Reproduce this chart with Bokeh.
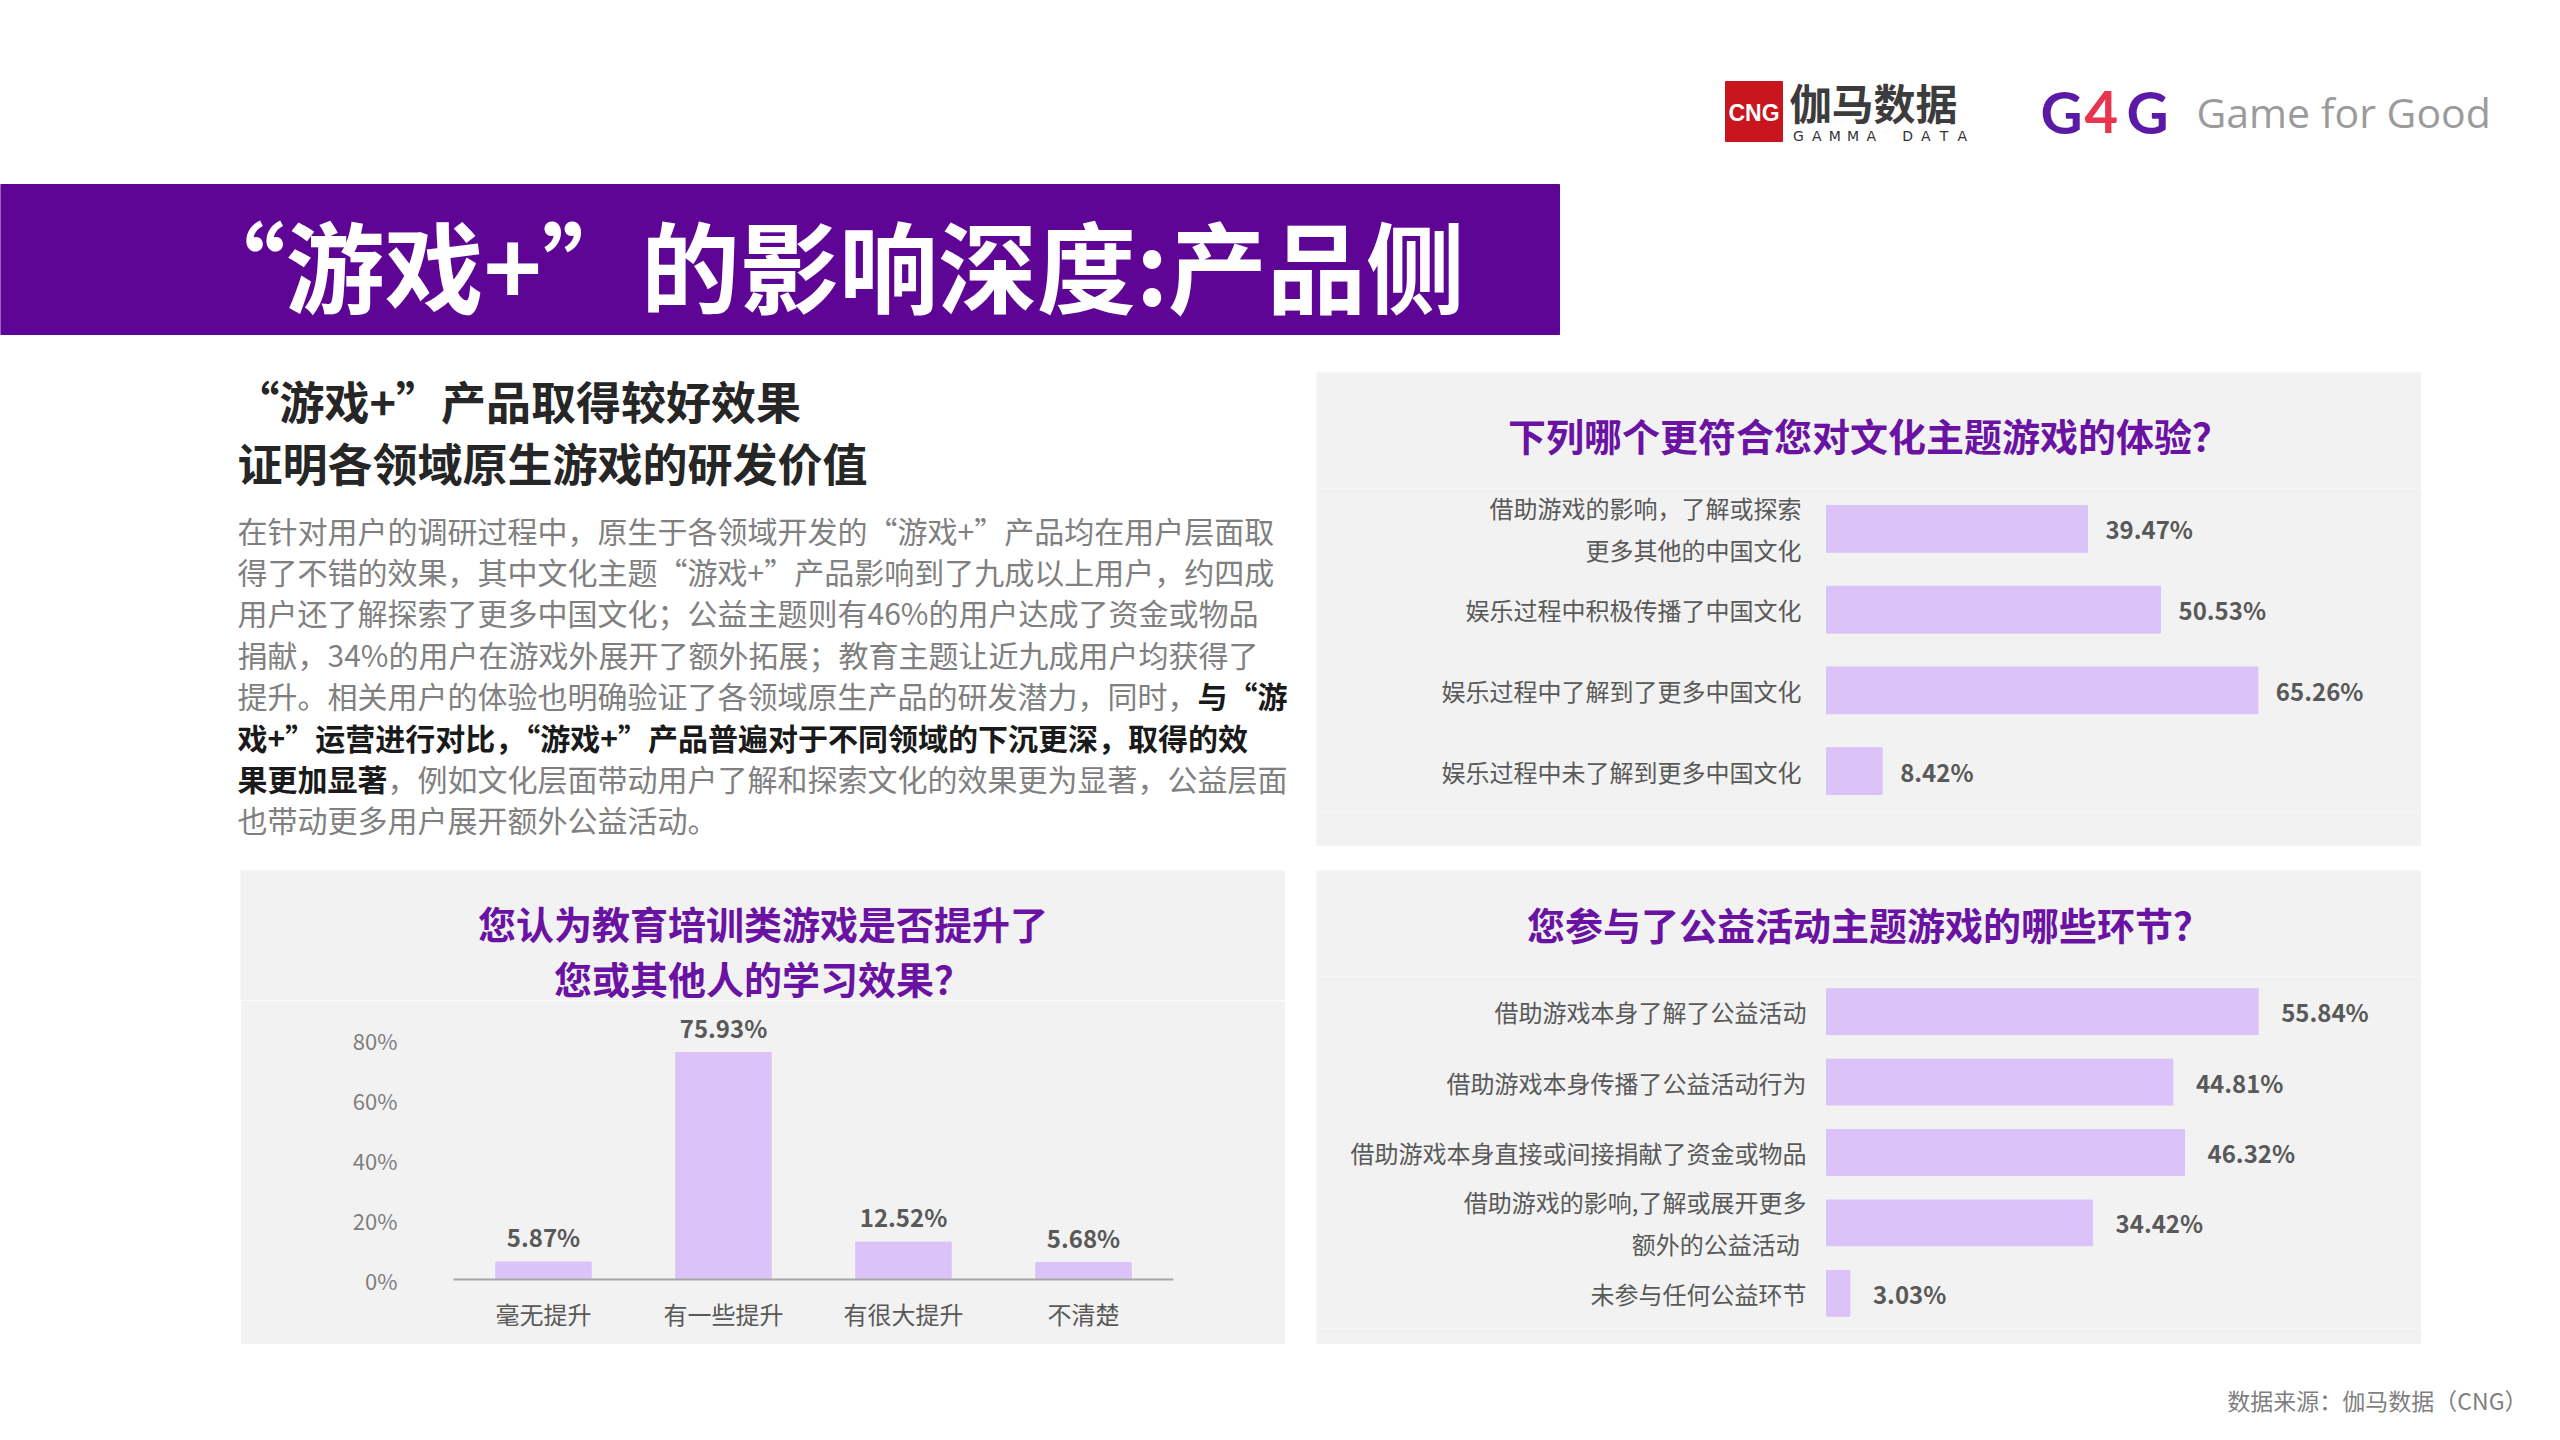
from bokeh.plotting import figure
from bokeh.layouts import column, row
from bokeh.models import (Spacer, Range1d, FactorRange, ColumnDataSource, FixedTicker,
                          PrintfTickFormatter, Label, LabelSet)
from bokeh.core.properties import value
from bokeh.embed import file_html
from bokeh.resources import INLINE

# ---------------- data ----------------
page_title = "“游戏+”的影响深度:产品侧"
heading_lines = ["“游戏+”产品取得较好效果", "证明各领域原生游戏的研发价值"]
body_lines = [
    [("在针对用户的调研过程中，原生于各领域开发的“游戏+”产品均在用户层面取", False)],
    [("得了不错的效果，其中文化主题“游戏+”产品影响到了九成以上用户，约四成", False)],
    [("用户还了解探索了更多中国文化；公益主题则有46%的用户达成了资金或物品", False)],
    [("捐献，34%的用户在游戏外展开了额外拓展；教育主题让近九成用户均获得了", False)],
    [("提升。相关用户的体验也明确验证了各领域原生产品的研发潜力，同时，", False), ("与“游", True)],
    [("戏+”运营进行对比，“游戏+”产品普遍对于不同领域的下沉更深，取得的效", True)],
    [("果更加显著", True), ("，例如文化层面带动用户了解和探索文化的效果更为显著，公益层面", False)],
    [("也带动更多用户展开额外公益活动。", False)],
]
source_note = "数据来源：伽马数据（CNG）"

culture_title = "下列哪个更符合您对文化主题游戏的体验？"
culture_cats = ["借助游戏的影响，了解或探索\n更多其他的中国文化", "娱乐过程中积极传播了中国文化",
                "娱乐过程中了解到了更多中国文化", "娱乐过程中未了解到更多中国文化"]
culture_vals = [39.47, 50.53, 65.26, 8.42]

edu_title_lines = ["您认为教育培训类游戏是否提升了", "您或其他人的学习效果？"]
edu_cats = ["毫无提升", "有一些提升", "有很大提升", "不清楚"]
edu_vals = [5.87, 75.93, 12.52, 5.68]
edu_ticks = [0, 20, 40, 60, 80]

charity_title = "您参与了公益活动主题游戏的哪些环节？"
charity_cats = ["借助游戏本身了解了公益活动", "借助游戏本身传播了公益活动行为",
                "借助游戏本身直接或间接捐献了资金或物品", "借助游戏的影响,了解或展开更多\n额外的公益活动",
                "未参与任何公益环节"]
charity_vals = [55.84, 44.81, 46.32, 34.42, 3.03]

# ---------------- style ----------------
FONT = "Noto Sans CJK SC"
BG = "#f2f2f2"
BAR = "#dbc2f8"
PURPLE = "#6a12a2"
BANNER = "#5e0596"
LABEL = "#595959"
BODY = "#808080"
DARK = "#262626"


def canvas(w, h, x0, x1, y_top, y_bottom, bg="white"):
    # page-like coordinates: y grows downwards, stored as negative numbers
    p = figure(width=w, height=h, x_range=Range1d(x0, x1), y_range=Range1d(-y_bottom, -y_top),
               x_axis_location=None, y_axis_location=None, output_backend="svg",
               toolbar_location=None, min_border=0)
    p.outline_line_color = None
    p.grid.visible = False
    p.background_fill_color = bg
    p.border_fill_color = bg
    return p


def put(p, x, y, s, size, color, bold=False, align="left", font=FONT):
    p.add_layout(Label(x=x, y=-y, text=s, text_font=font, text_font_size=size,
                       text_font_style="bold" if bold else "normal", text_color=color,
                       text_align=align, text_baseline="middle"))


def right_justify(s):
    # right-align the lines of a multi-line label with ideographic spaces
    lines = s.split("\n")
    if len(lines) == 1:
        return s
    em = lambda t: sum(0.5 if ord(c) < 128 else 1.0 for c in t)
    n = max(em(l) for l in lines)
    return "\n".join("\u3000" * int(n - em(l)) + l for l in lines)


# ---------------- header ----------------
hdr = canvas(2560, 372, 0, 2560, 0, 372)
hdr.quad(left=[0], right=[1559], top=[-184], bottom=[-334], color=BANNER)
put(hdr, 186, 262, page_title, "99px", "white", bold=True)
hdr.quad(left=[1725], right=[1782], top=[-81], bottom=[-141], color="#c9151e")
put(hdr, 1753.5, 112, "CNG", "23px", "white", bold=True, align="center", font="Liberation Sans")
put(hdr, 1789, 101, "伽马数据", "42px", "#3c3c3c", bold=True)
for i, ch in enumerate("GAMMA DATA"):
    if ch != " ":
        put(hdr, 1798 + 18.2 * i, 135, ch, "14px", "#333333", align="center", font="DejaVu Sans")
put(hdr, 2040, 111, "G", "58px", "#5b1aa6", bold=True, font="Lato")
put(hdr, 2084, 111, "4", "58px", "#e8344e", bold=True, font="Lato")
put(hdr, 2126, 111, "G", "58px", "#5b1aa6", bold=True, font="Lato")
put(hdr, 2196, 111, "Game for Good", "41px", "#9b9b9b", font="Open Sans")

# ---------------- left text block ----------------
txt = canvas(1316, 498, 0, 1316, 372, 870)
put(txt, 234, 400, heading_lines[0], "45px", DARK, bold=True)
put(txt, 237, 462, heading_lines[1], "45px", DARK, bold=True)
BODY_FS = 30
for i, segs in enumerate(body_lines):
    x = 237
    y = 529 + 41.4 * i
    for s, bold in segs:
        put(txt, x, y, s, f"{BODY_FS}px", "#1a1a1a" if bold else BODY, bold=bold)
        x += len(s) * BODY_FS


# ---------------- title strips / fillers ----------------
def title_strip(w, h, lines, ys):
    p = canvas(w, h, 0, w, 0, h, bg=BG)
    for s, y in zip(lines, ys):
        put(p, w / 2, y, s, "38px", PURPLE, bold=True, align="center")
    return p


def filler(w, h):
    return canvas(w, h, 0, w, 0, h, bg=BG)


# ---------------- horizontal bar charts (frame = whole figure) ----------------
def hbar_chart(cats, vals, w, h, px_per_pct, bar_left_px, bar_h, lab_gap, val_gap):
    src = ColumnDataSource(dict(cat=cats, val=vals, name=[right_justify(c) for c in cats],
                                lbl=[f"{v:.2f}%" for v in vals]))
    p = figure(width=w, height=h, y_range=FactorRange(factors=cats[::-1]),
               x_range=Range1d(-bar_left_px / px_per_pct, (w - bar_left_px) / px_per_pct),
               x_axis_location=None, y_axis_location=None, output_backend="svg",
               toolbar_location=None, min_border=0)
    p.outline_line_color = None
    p.grid.visible = False
    p.background_fill_color = BG
    p.border_fill_color = BG
    p.hbar(y="cat", left=0, right="val", height=bar_h, color=BAR, source=src)
    p.add_layout(LabelSet(x=0, y="cat", text="name", x_offset=-lab_gap, source=src,
                          text_align="right", text_baseline="middle", text_font=value(FONT),
                          text_font_size="24px", text_color=LABEL))
    p.add_layout(LabelSet(x="val", y="cat", text="lbl", x_offset=val_gap, source=src,
                          text_baseline="middle", text_font=value(FONT), text_font_size="24px",
                          text_font_style="bold", text_color=LABEL))
    return p


tr_title = title_strip(1105, 116, [culture_title], [62])
tr_chart = hbar_chart(culture_cats, culture_vals, 1105, 323, 6.61, 510, 0.58, 25, 18)
tr_fill = filler(1105, 35)

br_title = title_strip(1105, 106, [charity_title], [53])
br_chart = hbar_chart(charity_cats, charity_vals, 1105, 352, 7.73, 510, 0.65, 20, 23)
br_fill = filler(1105, 16)


# ---------------- vertical bar chart ----------------
def style_axis(ax, standoff, size, color):
    ax.axis_line_color = None
    ax.major_tick_line_color = None
    ax.minor_tick_line_color = None
    ax.major_tick_out = 0
    ax.major_tick_in = 0
    ax.major_label_standoff = standoff
    ax.major_label_text_font = FONT
    ax.major_label_text_font_size = size
    ax.major_label_text_color = color


bl_title = title_strip(1045, 130, edu_title_lines, [52, 107])
esrc = ColumnDataSource(dict(cat=edu_cats, val=edu_vals, lbl=[f"{v:.2f}%" for v in edu_vals]))
bl = figure(width=1045, height=344, x_range=FactorRange(factors=edu_cats), y_range=Range1d(0, 90),
            output_backend="svg", toolbar_location=None,
            min_border_left=213, min_border_right=112, min_border_top=10, min_border_bottom=65)
bl.outline_line_color = None
bl.grid.visible = False
bl.background_fill_color = BG
bl.border_fill_color = BG
bl.vbar(x="cat", top="val", width=0.53, bottom=0, color=BAR, source=esrc)
bl.add_layout(LabelSet(x="cat", y="val", text="lbl", y_offset=8, source=esrc,
                       text_align="center", text_baseline="bottom", text_font=value(FONT),
                       text_font_size="24px", text_font_style="bold", text_color=LABEL))
xa = bl.xaxis[0]
style_axis(xa, 16, "24px", LABEL)
xa.axis_line_color = "#a6a6a6"
xa.axis_line_width = 2
ya = bl.yaxis[0]
ya.ticker = FixedTicker(ticks=edu_ticks)
ya.formatter = PrintfTickFormatter(format="%d%%")
style_axis(ya, 56, "22px", "#7f7f7f")

# ---------------- footer ----------------
ftr = canvas(2560, 90, 0, 2560, 1344, 1434)
put(ftr, 2527, 1399, source_note, "23px", "#7f7f7f", align="right")

# ---------------- layout ----------------
left_col = column(txt, row(Spacer(width=240, height=474), column(row(bl_title), row(bl))))
right_col = column(tr_title, tr_chart, tr_fill, Spacer(width=1105, height=24),
                   br_title, br_chart, br_fill)
layout = column(hdr, row(left_col, right_col), ftr)

open("out.html", "w").write(file_html(layout, INLINE))
